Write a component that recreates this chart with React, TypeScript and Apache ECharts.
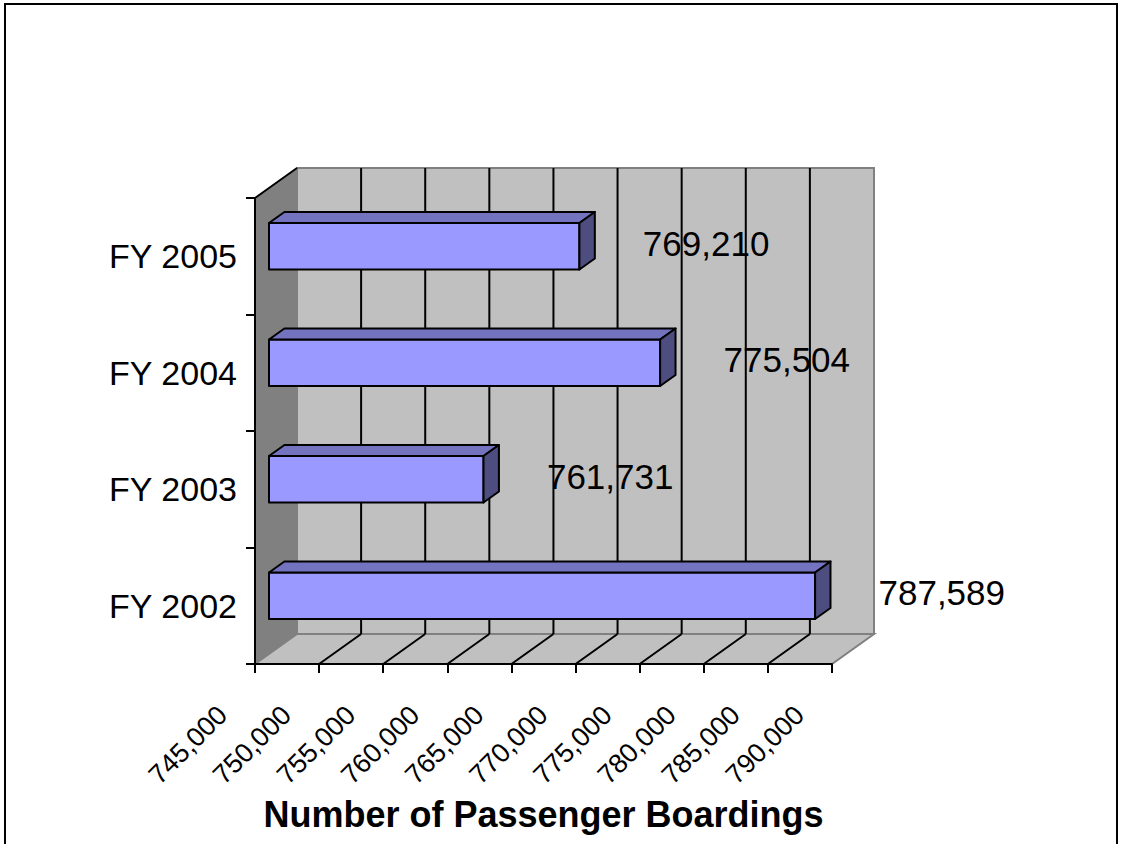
import React, { useEffect, useRef } from "react";
import * as echarts from "echarts";

const categories = ["FY 2002", "FY 2003", "FY 2004", "FY 2005"];
const boardings = [787589, 761731, 775504, 769210];
const axisMin = 745000;
const axisMax = 790000;
const axisStep = 5000;
const wallGridValues = [750000, 755000, 760000, 765000, 770000, 775000, 780000, 785000];
const axisTitle = "Number of Passenger Boardings";

const DX = 42;
const DY = -30;
const F1 = 1 / 3;
const F2 = 0.7;
const FONT = "Liberation Sans, Arial, sans-serif";

export default function App() {
  const ref = useRef<HTMLDivElement>(null);
  useEffect(() => {
    const chart = echarts.init(ref.current!, null, { renderer: "svg" });
    const option: any = {
      animation: false,
      backgroundColor: "#ffffff",
      graphic: [
        {
          type: "rect",
          shape: { x: 5, y: 4, width: 1112, height: 900 },
          style: { fill: "none", stroke: "#000", lineWidth: 2 },
          silent: true,
        },
      ],
      grid: { left: 255, top: 198, width: 577, height: 466, containLabel: false },
      xAxis: {
        type: "value",
        min: axisMin,
        max: axisMax,
        interval: axisStep,
        z: 10,
        axisLine: { show: true, lineStyle: { color: "#000", width: 2 } },
        axisTick: { show: true, length: 9, lineStyle: { color: "#000", width: 2 } },
        splitLine: { show: false },
        axisLabel: {
          rotate: 45,
          fontSize: 27,
          fontFamily: FONT,
          color: "#000",
          margin: 14,
          padding: [0, 46, 0, 0],
          formatter: (v: number) => v.toLocaleString("en-US"),
        },
        name: axisTitle,
        nameLocation: "middle",
        nameGap: 125,
        nameTextStyle: { fontSize: 36, fontWeight: "bold", fontFamily: FONT, color: "#000" },
      },
      yAxis: {
        type: "category",
        data: categories,
        z: 10,
        axisLine: { show: true, lineStyle: { color: "#000", width: 2 } },
        axisTick: { show: true, length: 9, lineStyle: { color: "#000", width: 2 } },
        splitLine: { show: false },
        axisLabel: { fontSize: 34, fontFamily: FONT, color: "#000", margin: 18 },
      },
      series: [
        {
          type: "custom",
          z: 1,
          silent: true,
          clip: false,
          data: [[axisMin, 0]],
          renderItem: (params: any, api: any) => {
            const cs = params.coordSys;
            const x = cs.x, y = cs.y, w = cs.width, h = cs.height;
            const children: any[] = [];
            children.push({
              type: "polygon",
              shape: { points: [[x, y], [x + DX, y + DY], [x + DX, y + h + DY], [x, y + h]] },
              style: { fill: "#808080", stroke: "none" },
            });
            children.push({
              type: "rect",
              shape: { x: x + DX, y: y + DY, width: w, height: h },
              style: { fill: "#C0C0C0", stroke: "#808080", lineWidth: 2 },
            });
            children.push({
              type: "polygon",
              shape: { points: [[x, y + h], [x + w, y + h], [x + w + DX, y + h + DY], [x + DX, y + h + DY]] },
              style: { fill: "#C0C0C0", stroke: "#808080", lineWidth: 2 },
            });
            children.push({
              type: "line",
              shape: { x1: x, y1: y, x2: x + DX, y2: y + DY },
              style: { stroke: "#000", lineWidth: 2 },
            });
            wallGridValues.forEach((v) => {
              const px = api.coord([v, 0])[0];
              children.push({
                type: "line",
                shape: { x1: px + DX, y1: y + DY, x2: px + DX, y2: y + h + DY },
                style: { stroke: "#000", lineWidth: 2 },
              });
              children.push({
                type: "line",
                shape: { x1: px, y1: y + h, x2: px + DX, y2: y + h + DY },
                style: { stroke: "#000", lineWidth: 2 },
              });
            });
            return { type: "group", children };
          },
        },
        {
          type: "custom",
          z: 3,
          clip: false,
          encode: { x: 0, y: 1 },
          data: boardings.map((v, i) => [v, i]),
          renderItem: (params: any, api: any) => {
            const v = api.value(0);
            const i = api.value(1);
            const base = api.coord([axisMin, i]);
            const end = api.coord([v, i]);
            const band = api.size([0, 1])[1];
            const bh = band * 0.4;
            const fx = DX * F1, fy = DY * F1;
            const d = DX * (F2 - F1), e = DY * (F2 - F1);
            const xl = base[0] + fx;
            const xr = end[0] + fx;
            const yt = end[1] - bh / 2 + fy;
            const yb = end[1] + bh / 2 + fy;
            const stroke = { stroke: "#000", lineWidth: 2, lineJoin: "round" };
            return {
              type: "group",
              children: [
                {
                  type: "rect",
                  shape: { x: xl, y: yt, width: xr - xl, height: bh },
                  style: { fill: "#9999FF", ...stroke },
                },
                {
                  type: "polygon",
                  shape: { points: [[xl, yt], [xr, yt], [xr + d, yt + e], [xl + d, yt + e]] },
                  style: { fill: "#7373BF", ...stroke },
                },
                {
                  type: "polygon",
                  shape: { points: [[xr, yt], [xr + d, yt + e], [xr + d, yb + e], [xr, yb]] },
                  style: { fill: "#4D4D80", ...stroke },
                },
                {
                  type: "text",
                  x: xr + d + 48,
                  y: (yt + yb) / 2 - 3,
                  style: {
                    text: v.toLocaleString("en-US"),
                    fontSize: 35,
                    fontFamily: FONT,
                    fill: "#000",
                    align: "left",
                    verticalAlign: "middle",
                  },
                },
              ],
            };
          },
        },
      ],
    };
    chart.setOption(option);
    return () => chart.dispose();
  }, []);
  return (
    <div
      ref={ref}
      style={{ position: "fixed", left: 0, top: 0, width: 1122, height: 844, background: "#fff" }}
    />
  );
}
